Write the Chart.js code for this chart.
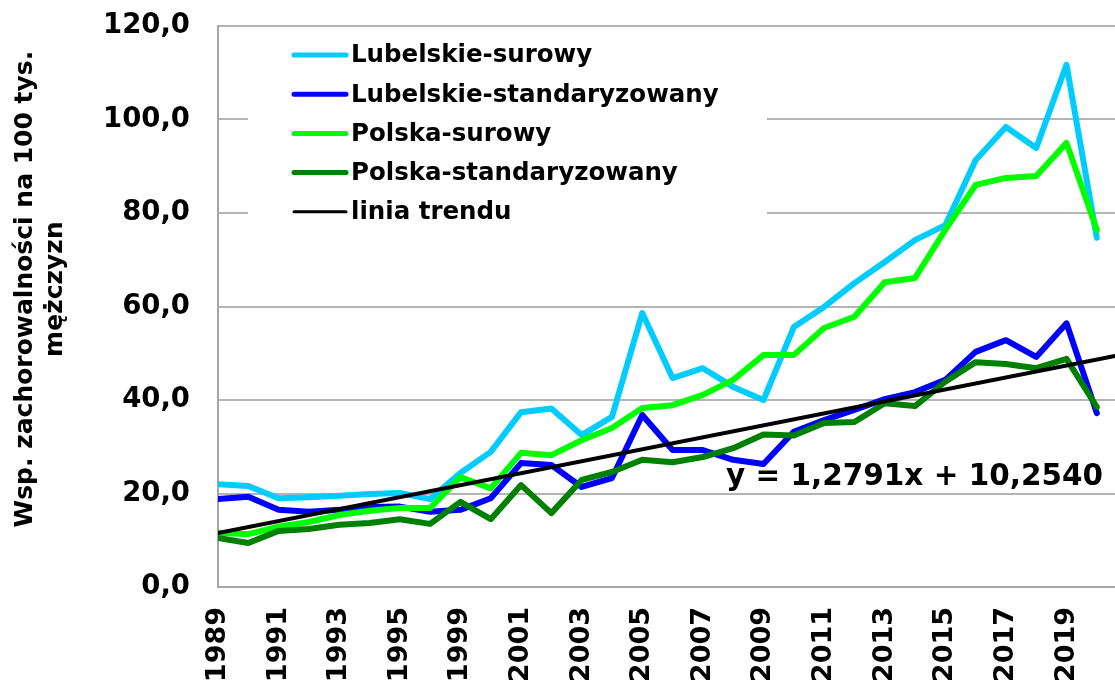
<!DOCTYPE html>
<html>
<head>
<meta charset="utf-8">
<script src="https://cdn.jsdelivr.net/npm/chart.js@4.4.1/dist/chart.umd.min.js"></script>
<style>
  body { margin: 0; background: #fff; }
  #box { position: relative; width: 1115px; height: 684px; }
</style>
</head>
<body>
<div id="box"><canvas id="zachorowalnosc_chart"></canvas></div>
<script>
// lata (1996-1998: tylko jeden rok w danych)
var years = ['1989', '1990', '1991', '1992', '1993', '1994', '1995', '1997',
  '1999', '2000', '2001', '2002', '2003', '2004', '2005', '2006', '2007', '2008',
  '2009', '2010', '2011', '2012', '2013', '2014', '2015', '2016', '2017', '2018',
  '2019', '2020'];

var lubelskieSurowy = [22.0, 21.6, 19.0, 19.2, 19.5, 19.9, 20.1, 18.8, 24.4, 28.9,
  37.4, 38.2, 32.5, 36.4, 58.6, 44.7, 46.8, 42.8, 40.0, 55.6,
  59.9, 65.0, 69.5, 74.2, 77.4, 91.3, 98.4, 93.9, 111.7, 74.7];

var lubelskieStand = [18.8, 19.3, 16.5, 16.1, 16.5, 17.1, 17.2, 16.1, 16.5, 19.0,
  26.5, 26.1, 21.4, 23.3, 36.8, 29.3, 29.3, 27.2, 26.3, 33.2,
  35.7, 37.9, 40.2, 41.7, 44.3, 50.3, 52.8, 49.2, 56.4, 37.2];

var polskaSurowy = [11.6, 11.3, 12.9, 13.9, 15.4, 16.3, 16.9, 16.9, 23.5, 21.1,
  28.7, 28.2, 31.4, 34.0, 38.3, 38.9, 41.1, 44.3, 49.6, 49.6,
  55.4, 57.8, 65.2, 66.1, 76.4, 86.0, 87.5, 87.9, 95.0, 76.4];

var polskaStand = [10.5, 9.4, 12.0, 12.4, 13.3, 13.7, 14.5, 13.5, 18.2, 14.5,
  21.8, 15.8, 22.9, 24.6, 27.2, 26.7, 27.8, 29.7, 32.6, 32.4,
  35.1, 35.3, 39.3, 38.7, 43.9, 48.1, 47.7, 46.8, 48.8, 38.5];

// linia trendu z równania na wykresie (x = 1 dla 1989)
var trendSlope = 1.2791;
var trendIntercept = 10.2540;
var trendLabel = 'y = 1,2791x + 10,2540';

var yTicks = [0, 20, 40, 60, 80, 100, 120];

var xMax = 29.6;
var fontFamily = '"DejaVu Sans", Verdana, sans-serif';

function toPoints(arr) {
  return arr.map(function (v, i) { return { x: i, y: v }; });
}

function noPadding(scale) {
  scale.paddingTop = 0;
  scale.paddingBottom = 0;
  scale.paddingLeft = 0;
  scale.paddingRight = 0;
}

// legenda w obszarze wykresu + równanie trendu
var legendPlugin = {
  id: 'boxLegend',
  beforeDatasetsDraw: function (chart) {
    var ctx = chart.ctx;
    ctx.save();
    ctx.fillStyle = '#fff';
    ctx.fillRect(248, 32, 519, 212);
    ctx.font = 'bold 24.5px ' + fontFamily;
    ctx.textBaseline = 'middle';
    ctx.textAlign = 'left';
    chart.data.datasets.forEach(function (ds, i) {
      var y = 55 + i * 39.2;
      ctx.beginPath();
      ctx.strokeStyle = ds.borderColor;
      ctx.lineWidth = ds.borderWidth - 1;
      ctx.lineCap = 'round';
      ctx.moveTo(294, y);
      ctx.lineTo(346, y);
      ctx.stroke();
      ctx.fillStyle = '#000';
      ctx.fillText(ds.label, 351, y + 1);
    });
    ctx.restore();
  },
  afterDatasetsDraw: function (chart) {
    var ctx = chart.ctx;
    ctx.save();
    ctx.font = 'bold 29.5px ' + fontFamily;
    ctx.fillStyle = '#000';
    ctx.textAlign = 'right';
    ctx.textBaseline = 'alphabetic';
    ctx.fillText(trendLabel, 1103, 485);
    ctx.restore();
  }
};

var ctx1 = document.getElementById('zachorowalnosc_chart');
var zachorowalnoscChart = new Chart(ctx1, {
  type: 'line',
  data: {
    datasets: [{
      label: 'Lubelskie-surowy',
      data: toPoints(lubelskieSurowy),
      borderColor: '#00CCFF',
      borderWidth: 6,
      order: 5
    }, {
      label: 'Lubelskie-standaryzowany',
      data: toPoints(lubelskieStand),
      borderColor: '#0000FF',
      borderWidth: 6,
      order: 4
    }, {
      label: 'Polska-surowy',
      data: toPoints(polskaSurowy),
      borderColor: '#00FF00',
      borderWidth: 6,
      order: 3
    }, {
      label: 'Polska-standaryzowany',
      data: toPoints(polskaStand),
      borderColor: '#008000',
      borderWidth: 6,
      order: 2
    }, {
      label: 'linia trendu',
      data: [
        { x: 0, y: trendIntercept + trendSlope * 1 },
        { x: xMax, y: trendIntercept + trendSlope * (xMax + 1) }
      ],
      borderColor: '#000000',
      borderWidth: 4,
      order: 1
    }]
  },
  options: {
    responsive: true,
    maintainAspectRatio: false,
    animation: false,
    layout: {
      padding: { left: 0, right: 0, top: 26, bottom: 0 }
    },
    elements: {
      point: { radius: 0, hoverRadius: 0 },
      line: { tension: 0, fill: false, borderJoinStyle: 'round', borderCapStyle: 'round' }
    },
    plugins: {
      legend: { display: false },
      tooltip: { enabled: false }
    },
    scales: {
      x: {
        type: 'linear',
        min: 0,
        max: xMax,
        grid: { display: false, drawTicks: false },
        border: { display: true, color: '#a6a6a6', width: 2 },
        ticks: {
          stepSize: 2,
          autoSkip: false,
          minRotation: 90,
          maxRotation: 90,
          padding: 20,
          color: '#000',
          font: { family: fontFamily, size: 27, weight: 'bold' },
          callback: function (value) {
            if (Number.isInteger(value) && value % 2 === 0 && years[value]) {
              return years[value];
            }
            return '';
          }
        },
        afterFit: function (scale) {
          scale.height = 97;
          noPadding(scale);
        }
      },
      y: {
        min: 0,
        max: 120,
        grid: { color: '#b4b4b4', lineWidth: 2, drawTicks: false },
        border: { display: true, color: '#a6a6a6', width: 2 },
        afterBuildTicks: function (scale) {
          scale.ticks = yTicks.map(function (v) { return { value: v }; });
        },
        ticks: {
          padding: 28,
          color: '#000',
          font: { family: fontFamily, size: 27.5, weight: 'bold' },
          callback: function (value) {
            return value.toFixed(1).replace('.', ',');
          }
        },
        title: {
          display: true,
          // spacje na początku przesuwają tytuł nieco w górę
          text: ['    Wsp. zachorowalności na 100 tys.', '    mężczyzn'],
          color: '#000',
          padding: { top: 10, bottom: 0 },
          font: { family: fontFamily, size: 25, weight: 'bold', lineHeight: 1.2 }
        },
        afterFit: function (scale) {
          scale.width = 218;
          noPadding(scale);
        }
      }
    }
  },
  plugins: [legendPlugin]
});
</script>
</body>
</html>
